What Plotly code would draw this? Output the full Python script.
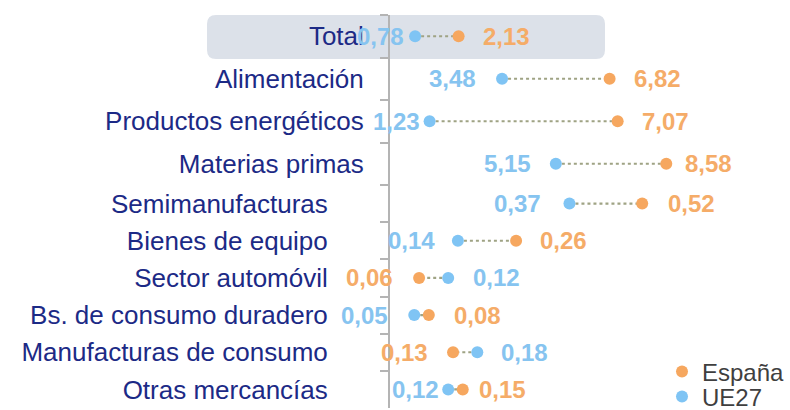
import plotly.graph_objects as go

# ---- data ----
cats_top = ["Total", "Alimentación", "Productos energéticos", "Materias primas"]
espana_top = [2.13, 6.82, 7.07, 8.58]
ue27_top = [0.78, 3.48, 1.23, 5.15]

cats_bot = ["Semimanufacturas", "Bienes de equipo", "Sector automóvil",
            "Bs. de consumo duradero", "Manufacturas de consumo", "Otras mercancías"]
espana_bot = [0.52, 0.26, 0.06, 0.08, 0.13, 0.15]
ue27_bot = [0.37, 0.14, 0.12, 0.05, 0.18, 0.12]

# ---- style ----
ORANGE = "#F6A75F"
BLUE = "#7FC4F4"
ORANGE_TXT = "#F5AC68"
BLUE_TXT = "#86C4F0"
NAVY = "#1C2A86"
LINE_C = "#9FA384"
AXIS_C = "#B4B4B4"
FONT = "Arial, Liberation Sans, sans-serif"

# label gaps (px from dot centre) for the left-hand and right-hand labels
left_gap_top = [9, 24, 8, 23]
right_gap_top = [22, 22, 22, 17]
left_gap_bot = [26, 21, 24, 24, 23, 7]
right_gap_bot = [24, 22, 23, 23, 22, 14]

W, H = 790, 410
ML, MR, MT, MB = 390, 10, 15, 2
plot_w = W - ML - MR
plot_h = H - MT - MB
split = (408 - 185) / plot_h  # boundary between groups (paper)

top_max = plot_w / 32.2
bot_max = plot_w / 485.0

fig = go.Figure()


def add_group(cats, es, ue, xa, ya, lgap, rgap, show_legend):
    # connectors
    xs, ys = [], []
    for c, a, b in zip(cats, es, ue):
        xs += [b, a, None]
        ys += [c, c, None]
    fig.add_trace(go.Scatter(x=xs, y=ys, mode="lines", xaxis=xa, yaxis=ya,
                             line=dict(color=LINE_C, width=2.2, dash="dot"),
                             showlegend=False, hoverinfo="skip"))
    fig.add_trace(go.Scatter(x=es, y=cats, mode="markers", name="España",
                             xaxis=xa, yaxis=ya, legendgroup="es",
                             marker=dict(color=ORANGE, size=12, line=dict(width=0)),
                             showlegend=show_legend, legend="legend"))
    fig.add_trace(go.Scatter(x=ue, y=cats, mode="markers", name="UE27",
                             xaxis=xa, yaxis=ya, legendgroup="ue",
                             marker=dict(color=BLUE, size=12, line=dict(width=0)),
                             showlegend=show_legend, legend="legend2"))
    for i, (c, a, b) in enumerate(zip(cats, es, ue)):
        lo_is_es = a < b
        lo_val, hi_val = (a, b) if lo_is_es else (b, a)
        lo_col, hi_col = (ORANGE_TXT, BLUE_TXT) if lo_is_es else (BLUE_TXT, ORANGE_TXT)
        fig.add_annotation(x=lo_val, y=c, xref=xa, yref=ya, showarrow=False,
                           text="<b>" + f"{lo_val:.2f}".replace(".", ",") + "</b>",
                           xanchor="right", xshift=-lgap[i],
                           font=dict(family=FONT, size=24, color=lo_col))
        fig.add_annotation(x=hi_val, y=c, xref=xa, yref=ya, showarrow=False,
                           text="<b>" + f"{hi_val:.2f}".replace(".", ",") + "</b>",
                           xanchor="left", xshift=rgap[i],
                           font=dict(family=FONT, size=24, color=hi_col))


add_group(cats_top, espana_top, ue27_top, "x", "y", left_gap_top, right_gap_top, True)
add_group(cats_bot, espana_bot, ue27_bot, "x2", "y2", left_gap_bot, right_gap_bot, False)

# highlight band behind "Total"
x0 = (207 - ML) / plot_w
x1 = (605 - ML) / plot_w
y1 = 1.0
y0 = (408 - 59) / plot_h
rx = 9 / plot_w
ry = 9 / plot_h
path = (f"M {x0+rx},{y1} L {x1-rx},{y1} Q {x1},{y1} {x1},{y1-ry} "
        f"L {x1},{y0+ry} Q {x1},{y0} {x1-rx},{y0} L {x0+rx},{y0} "
        f"Q {x0},{y0} {x0},{y0+ry} L {x0},{y1-ry} Q {x0},{y1} {x0+rx},{y1} Z")
fig.add_shape(type="path", path=path, xref="paper", yref="paper",
              fillcolor="#DCE1E9", line=dict(width=0), layer="below")

yax_common = dict(type="category", showline=True, automargin=False,
                  linecolor=AXIS_C, linewidth=2, ticks="outside", ticklen=8,
                  tickcolor=AXIS_C, tickwidth=2, tickson="boundaries",
                  showgrid=False, zeroline=False,
                  tickfont=dict(family=FONT, size=26, color=NAVY))

legend_common = dict(xanchor="left", yanchor="middle", bgcolor="rgba(0,0,0,0)",
                     borderwidth=0, itemwidth=30,
                     font=dict(family=FONT, size=24, color="#3F3F3F"))

fig.update_layout(
    template="none",
    width=W, height=H,
    margin=dict(l=ML, r=MR, t=MT, b=MB, autoexpand=False),
    paper_bgcolor="white", plot_bgcolor="rgba(0,0,0,0)",
    showlegend=True,
    xaxis=dict(domain=[0, 1], range=[0, top_max], visible=False, anchor="y",
               automargin=False),
    xaxis2=dict(domain=[0, 1], range=[0, bot_max], visible=False, anchor="y2",
                automargin=False),
    yaxis=dict(domain=[split, 1], anchor="x", ticklabelstandoff=19,
               range=[len(cats_top) - 0.5, -0.5],
               categoryorder="array", categoryarray=cats_top, **yax_common),
    yaxis2=dict(domain=[0, split], anchor="x2", ticklabelstandoff=55,
                range=[len(cats_bot) - 0.5, -0.5],
                categoryorder="array", categoryarray=cats_bot, **yax_common),
    legend=dict(x=(662 - ML) / plot_w, y=(408 - 372) / plot_h, **legend_common),
    legend2=dict(x=(662 - ML) / plot_w, y=(408 - 397) / plot_h, **legend_common),
)

fig.write_html("out.html",
               config={"displayModeBar": False},
               post_script="document.body.style.margin='0';"
                           "document.body.style.overflow='hidden';")
